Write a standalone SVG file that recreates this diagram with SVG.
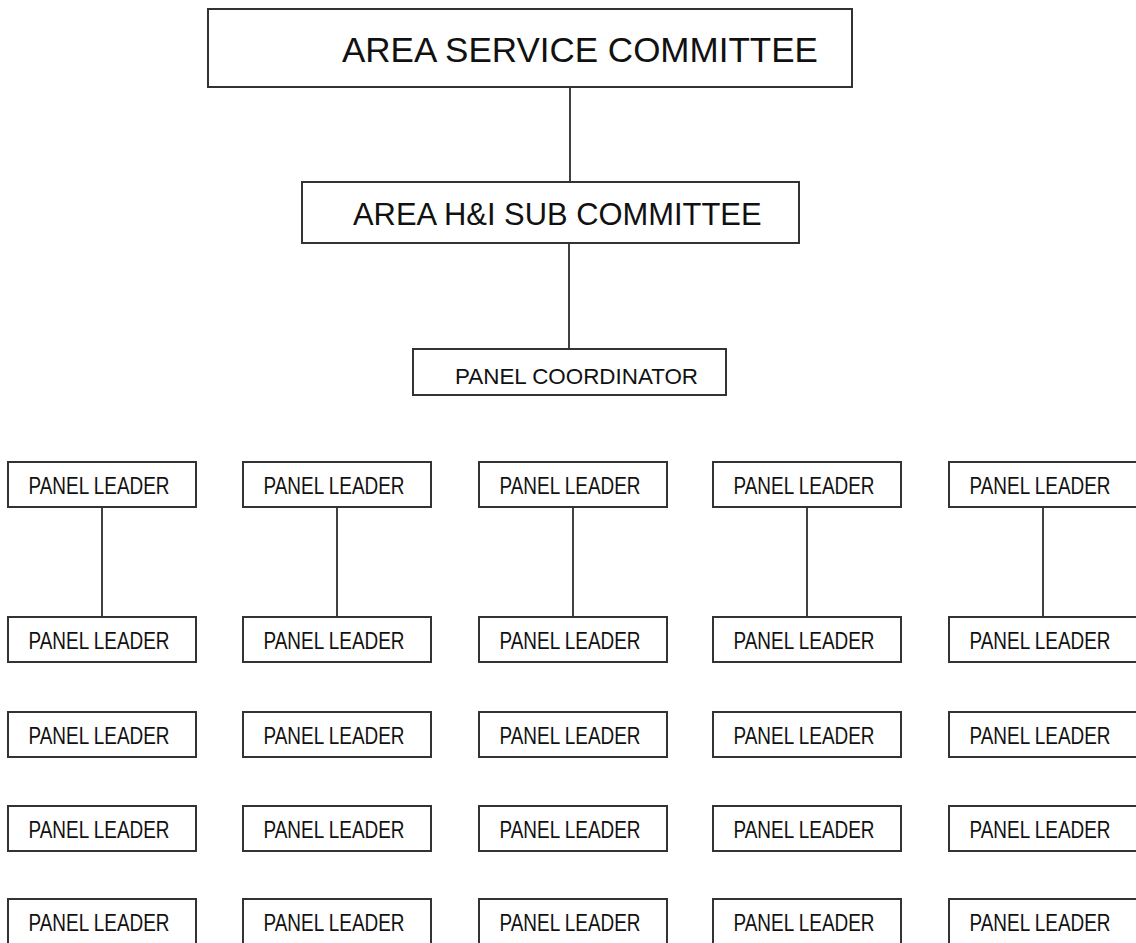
<svg xmlns="http://www.w3.org/2000/svg" width="1136" height="943" viewBox="0 0 1136 943">
<style>
.b{fill:#fff;stroke:#333;stroke-width:2}
.c line{stroke:#111;stroke-width:1.6}
text{font-family:"Liberation Sans",Arial,sans-serif;fill:#111}
.pl{font-size:23px}
</style>
<defs>
<g id="pl"><rect class="b" x="0" y="0" width="188" height="45"/><text class="pl" x="20.5" y="32" textLength="141" lengthAdjust="spacingAndGlyphs">PANEL LEADER</text></g>
</defs>
<rect width="1136" height="943" fill="#fff"/>
<g class="c" id="connectors">
<line x1="570" y1="87" x2="570" y2="182"/>
<line x1="569" y1="243" x2="569" y2="349"/>
<line x1="102" y1="507" x2="102" y2="617"/>
<line x1="337" y1="507" x2="337" y2="617"/>
<line x1="573" y1="507" x2="573" y2="617"/>
<line x1="807" y1="507" x2="807" y2="617"/>
<line x1="1043" y1="507" x2="1043" y2="617"/>
</g>
<g id="asc"><rect class="b" x="208" y="9" width="644" height="78"/><text x="342" y="62" font-size="35">AREA SERVICE COMMITTEE</text></g>
<g id="hi"><rect class="b" x="302" y="182" width="497" height="61"/><text x="353" y="225" font-size="30.9">AREA H&amp;I SUB COMMITTEE</text></g>
<g id="pc"><rect class="b" x="413" y="349" width="313" height="46"/><text x="455" y="384" font-size="22.4">PANEL COORDINATOR</text></g>
<g id="r1c1"><use href="#pl" x="8" y="462"/></g>
<g id="r1c2"><use href="#pl" x="243" y="462"/></g>
<g id="r1c3"><use href="#pl" x="479" y="462"/></g>
<g id="r1c4"><use href="#pl" x="713" y="462"/></g>
<g id="r1c5"><use href="#pl" x="949" y="462"/></g>
<g id="r2c1"><use href="#pl" x="8" y="617"/></g>
<g id="r2c2"><use href="#pl" x="243" y="617"/></g>
<g id="r2c3"><use href="#pl" x="479" y="617"/></g>
<g id="r2c4"><use href="#pl" x="713" y="617"/></g>
<g id="r2c5"><use href="#pl" x="949" y="617"/></g>
<g id="r3c1"><use href="#pl" x="8" y="712"/></g>
<g id="r3c2"><use href="#pl" x="243" y="712"/></g>
<g id="r3c3"><use href="#pl" x="479" y="712"/></g>
<g id="r3c4"><use href="#pl" x="713" y="712"/></g>
<g id="r3c5"><use href="#pl" x="949" y="712"/></g>
<g id="r4c1"><use href="#pl" x="8" y="806"/></g>
<g id="r4c2"><use href="#pl" x="243" y="806"/></g>
<g id="r4c3"><use href="#pl" x="479" y="806"/></g>
<g id="r4c4"><use href="#pl" x="713" y="806"/></g>
<g id="r4c5"><use href="#pl" x="949" y="806"/></g>
<g id="r5c1"><use href="#pl" x="8" y="899"/></g>
<g id="r5c2"><use href="#pl" x="243" y="899"/></g>
<g id="r5c3"><use href="#pl" x="479" y="899"/></g>
<g id="r5c4"><use href="#pl" x="713" y="899"/></g>
<g id="r5c5"><use href="#pl" x="949" y="899"/></g>
</svg>
